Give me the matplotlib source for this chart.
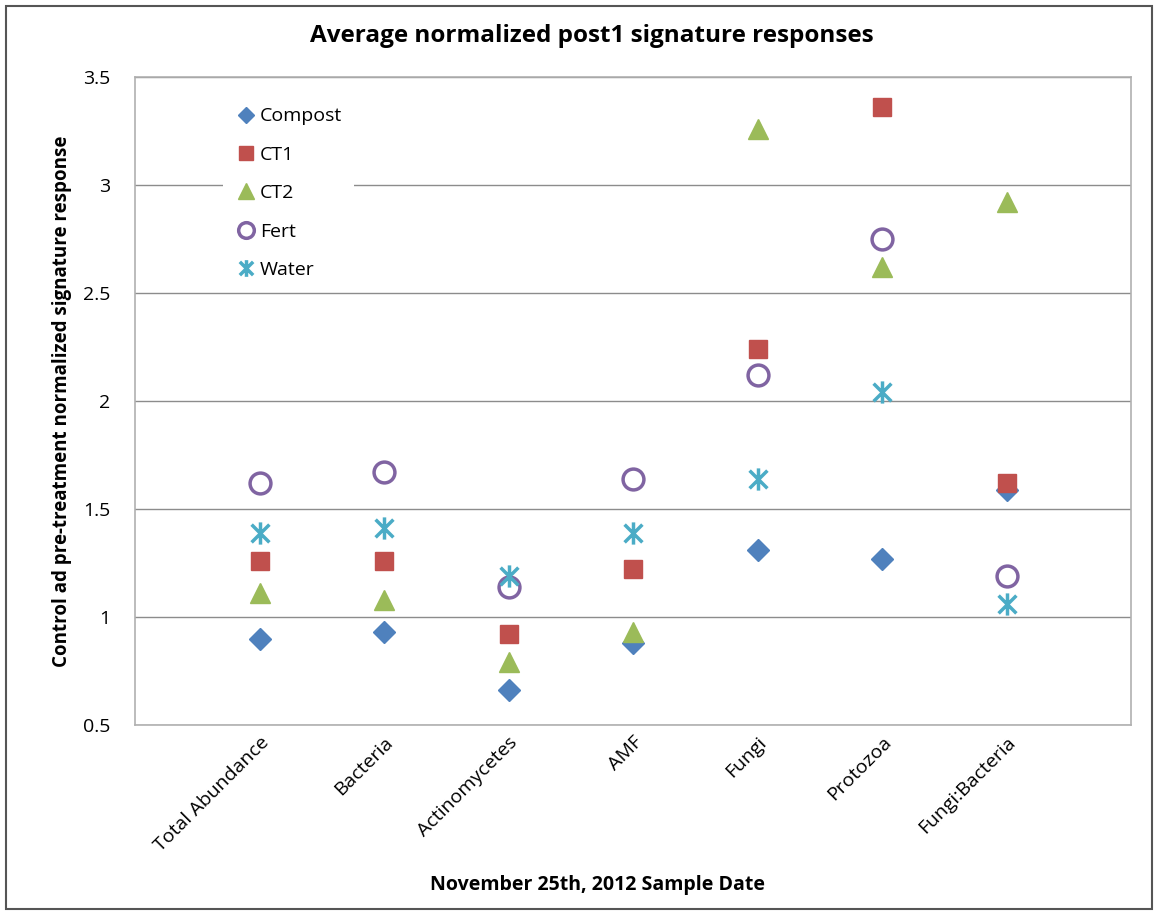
import matplotlib
matplotlib.use("Agg")
import matplotlib.pyplot as plt
from matplotlib.path import Path
from matplotlib.patches import Rectangle

categories = ["Total Abundance", "Bacteria", "Actinomycetes", "AMF",
              "Fungi", "Protozoa", "Fungi:Bacteria"]
compost = [0.90, 0.93, 0.66, 0.88, 1.31, 1.27, 1.59]
ct1 = [1.26, 1.26, 0.92, 1.22, 2.24, 3.36, 1.62]
ct2 = [1.11, 1.08, 0.79, 0.93, 3.26, 2.62, 2.92]
fert = [1.62, 1.67, 1.14, 1.64, 2.12, 2.75, 1.19]
water = [1.39, 1.41, 1.19, 1.39, 1.64, 2.04, 1.06]
yticks = [0.5, 1, 1.5, 2, 2.5, 3, 3.5]
ytick_labels = ["0.5", "1", "1.5", "2", "2.5", "3", "3.5"]

plt.rcParams['font.family'] = ['Open Sans', 'DejaVu Sans']

# asterisk-style marker: an X crossed by a vertical bar
star = Path([(-1, -1), (1, 1), (-1, 1), (1, -1), (0, -1.25), (0, 1.25)],
            [Path.MOVETO, Path.LINETO, Path.MOVETO, Path.LINETO,
             Path.MOVETO, Path.LINETO])

fig = plt.figure(figsize=(11.59, 9.11), dpi=100)
ax = fig.add_axes([135/1159, 1 - 725/911, (1131 - 135)/1159, (725 - 77)/911])

x = list(range(1, len(categories) + 1))
ax.plot(x, compost, linestyle='none', marker='D', markersize=11.5,
        color='#4F81BD', label='Compost')
ax.plot(x, ct1, linestyle='none', marker='s', markersize=13,
        color='#C0504D', label='CT1')
ax.plot(x, ct2, linestyle='none', marker='^', markersize=15,
        color='#9BBB59', label='CT2')
ax.plot(x, fert, linestyle='none', marker='o', markersize=15,
        markerfacecolor='none', markeredgecolor='#8064A2', markeredgewidth=2.5,
        label='Fert')
ax.plot(x, water, linestyle='none', marker=star, markersize=16,
        markerfacecolor='none', markeredgecolor='#4BACC6', markeredgewidth=2.5,
        label='Water')

ax.set_xlim(0, len(categories) + 1)
ax.set_ylim(0.5, 3.5)
ax.set_yticks(yticks)
ax.set_yticklabels(ytick_labels, fontsize=14)
ax.set_xticks(x)
ax.set_xticklabels(categories, rotation=45, ha='right', rotation_mode='anchor',
                   fontsize=14)
ax.tick_params(axis='x', length=0, pad=6)
ax.tick_params(axis='y', length=0, pad=18)
ax.yaxis.grid(True, color='#8c8c8c', linewidth=1)
ax.set_axisbelow(True)
for s in ax.spines.values():
    s.set_color('#b0b0b0')
    s.set_linewidth(1.2)

ax.set_ylabel('Control ad pre-treatment normalized signature response',
              fontsize=13.5, fontweight='bold', labelpad=8)
fig.text(598/1159, 1 - 885/911, 'November 25th, 2012 Sample Date',
         ha='center', va='center', fontsize=14, fontweight='bold')
fig.text(592/1159, 1 - 36/911, 'Average normalized post1 signature responses',
         ha='center', va='center', fontsize=17.5, fontweight='bold')

leg = ax.legend(loc='upper left', bbox_to_anchor=(78/996, 1 - 9/648),
                frameon=True, fontsize=14, labelspacing=1.05,
                handletextpad=0.1, handlelength=1.2, borderpad=0.6,
                markerscale=0.75)
leg.get_frame().set_edgecolor('none')
leg.get_frame().set_facecolor('white')
leg.get_frame().set_alpha(1)

# outer border of the chart area
fig.patches.append(Rectangle((6/1159, 2/911), 1146/1159, 903/911,
                             transform=fig.transFigure, fill=False,
                             edgecolor='#555555', linewidth=1.5))

fig.savefig('out.png', dpi=100, facecolor='white')
